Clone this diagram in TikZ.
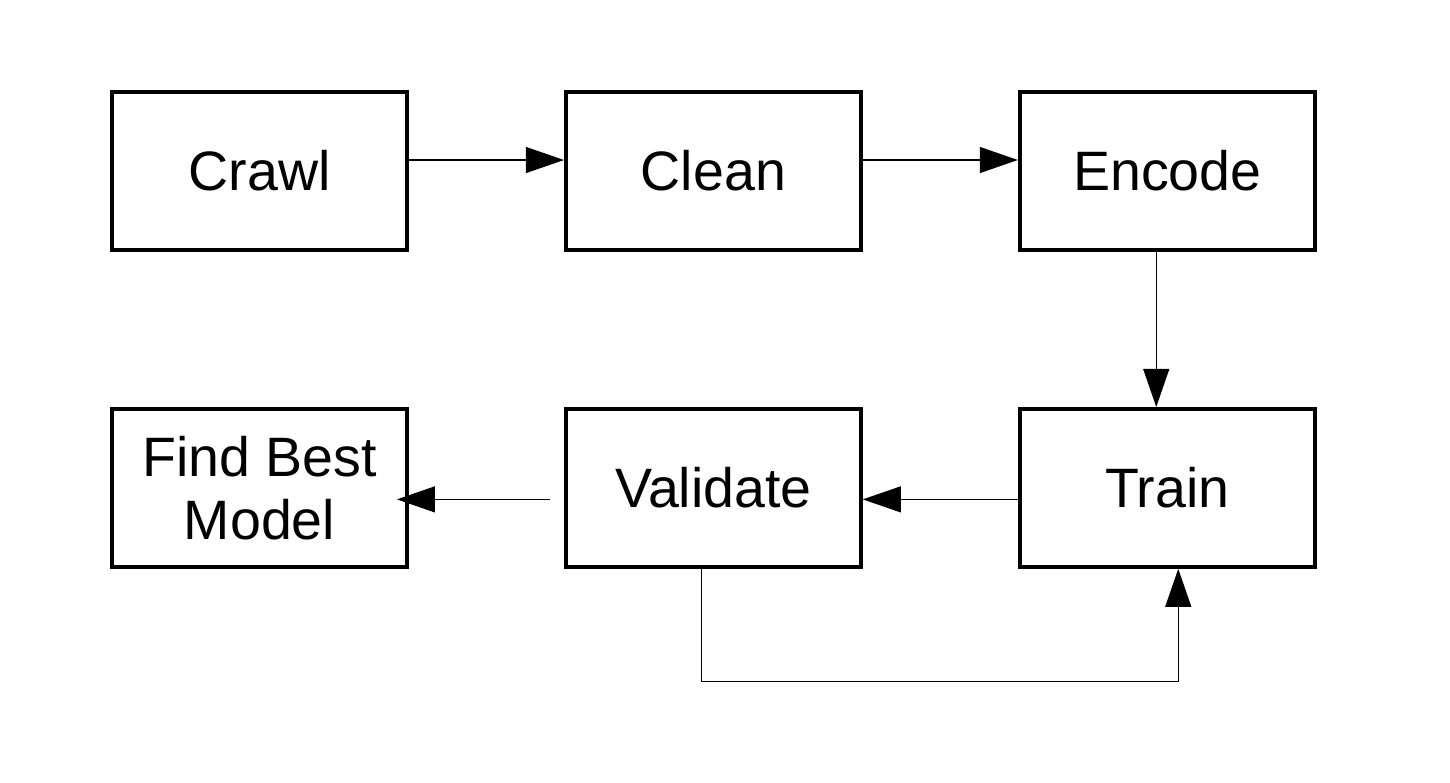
\documentclass[tikz,border=0pt]{standalone}
\usepackage{fontspec}
\setmainfont{Liberation Sans}
\usepackage{tikz}
\usetikzlibrary{arrows.meta,positioning}

\begin{document}
\begin{tikzpicture}[
    stage/.style={rectangle, draw, line width=1.1pt, minimum width=2.95cm,
      minimum height=1.58cm, inner sep=0pt, align=center,
      font=\fontsize{15.8}{18}\selectfont},
    arr/.style={-{Triangle[length=0.38cm, width=0.26cm]}, line width=0.3pt},
  ]
    \useasboundingbox (0,0) rectangle (14.5,-7.82);

    % Nodes
    \node[stage] (crawl) at (2.595,-1.71) {Crawl};
    \node[stage, right=1.55cm of crawl] (clean) {Clean};
    \node[stage, right=1.55cm of clean] (encode) {Encode};
    \node[stage, below=1.55cm of encode] (train) {Train};
    \node[stage, left=1.55cm of train] (validate) {Validate};
    \node[stage, left=1.55cm of validate] (best) {Find Best\\Model};
    \coordinate (loop) at ([yshift=-1.13cm]validate.south);

    % Arrows
    \draw[arr] ([yshift=0.11cm]crawl.east) -- ([yshift=0.11cm]clean.west);
    \draw[arr] ([yshift=0.11cm]clean.east) -- ([yshift=0.11cm]encode.west);
    \draw[arr] ([xshift=-0.11cm]encode.south) -- ([xshift=-0.11cm]train.north);
    \draw[arr] ([yshift=-0.115cm]train.west) -- ([yshift=-0.115cm]validate.east);
    \draw[arr] ([xshift=-0.14cm,yshift=-0.115cm]validate.west)
      -- ([xshift=-0.12cm,yshift=-0.115cm]best.east);
    \draw[arr] ([xshift=-0.12cm]validate.south) |- ([xshift=-0.12cm]loop)
      -| ([xshift=0.11cm]train.south);
  \end{tikzpicture}
\end{document}
